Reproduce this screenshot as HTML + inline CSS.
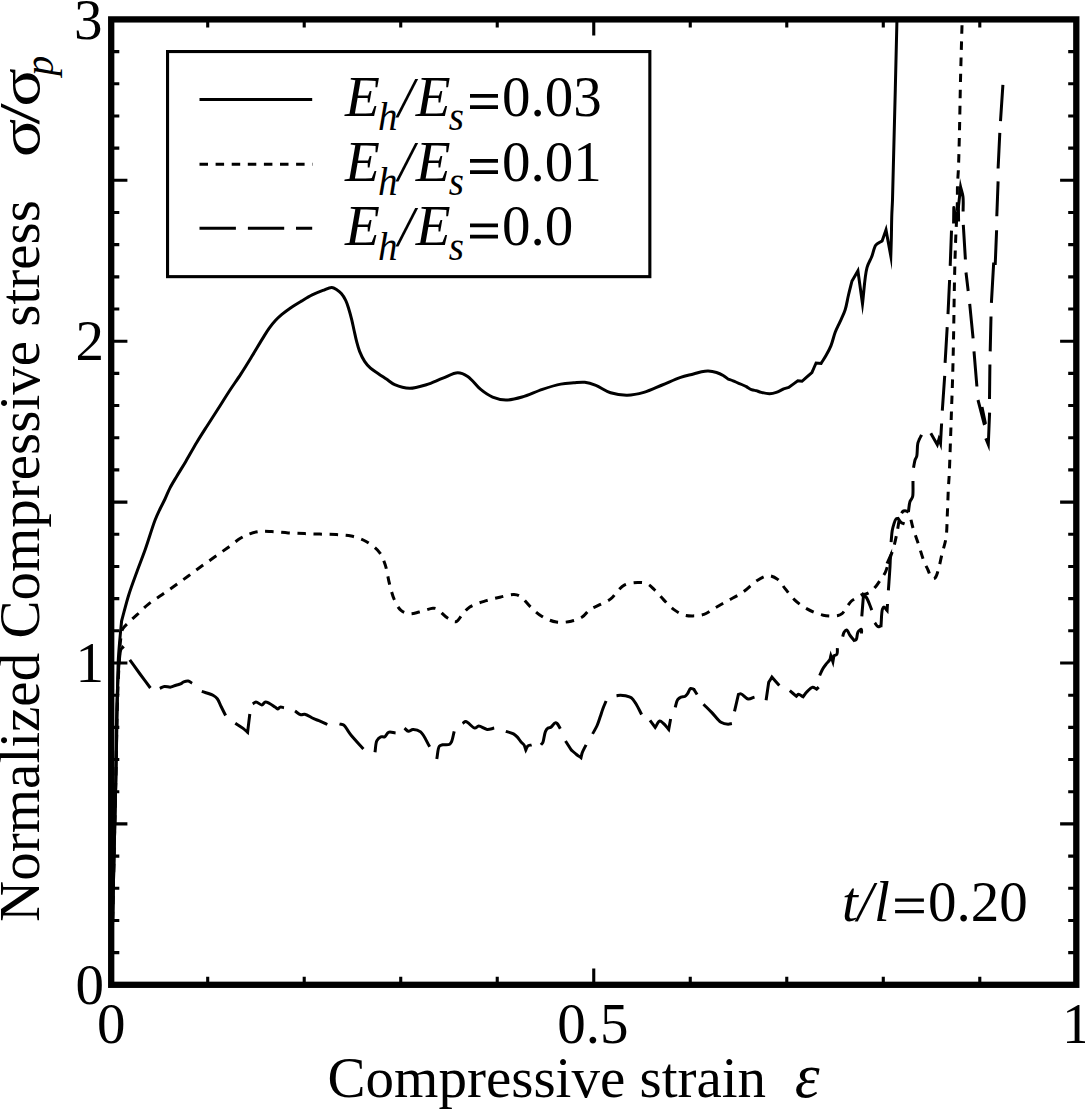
<!DOCTYPE html>
<html><head><meta charset="utf-8"><style>
html,body{margin:0;padding:0;background:#fff;}
svg{display:block;}
text{font-family:"Liberation Serif",serif;fill:#000;}
.i{font-style:italic;}
</style></head><body>
<svg width="1085" height="1110" viewBox="0 0 1085 1110">
<rect width="1085" height="1110" fill="#fff"/>
<rect x="111.2" y="19.4" width="965.10" height="965.40" fill="none" stroke="#000" stroke-width="6.3"/>
<path d="M207.71 984.80V976.70M207.71 19.40V27.50M304.22 984.80V976.70M304.22 19.40V27.50M400.73 984.80V976.70M400.73 19.40V27.50M497.24 984.80V976.70M497.24 19.40V27.50M593.75 984.80V968.60M593.75 19.40V35.60M690.26 984.80V976.70M690.26 19.40V27.50M786.77 984.80V976.70M786.77 19.40V27.50M883.28 984.80V976.70M883.28 19.40V27.50M979.79 984.80V976.70M979.79 19.40V27.50M111.20 952.62H119.30M1076.30 952.62H1068.20M111.20 920.44H119.30M1076.30 920.44H1068.20M111.20 888.26H119.30M1076.30 888.26H1068.20M111.20 856.08H119.30M1076.30 856.08H1068.20M111.20 823.90H127.40M1076.30 823.90H1060.10M111.20 791.72H119.30M1076.30 791.72H1068.20M111.20 759.54H119.30M1076.30 759.54H1068.20M111.20 727.36H119.30M1076.30 727.36H1068.20M111.20 695.18H119.30M1076.30 695.18H1068.20M111.20 663.00H127.40M1076.30 663.00H1060.10M111.20 630.82H119.30M1076.30 630.82H1068.20M111.20 598.64H119.30M1076.30 598.64H1068.20M111.20 566.46H119.30M1076.30 566.46H1068.20M111.20 534.28H119.30M1076.30 534.28H1068.20M111.20 502.10H127.40M1076.30 502.10H1060.10M111.20 469.92H119.30M1076.30 469.92H1068.20M111.20 437.74H119.30M1076.30 437.74H1068.20M111.20 405.56H119.30M1076.30 405.56H1068.20M111.20 373.38H119.30M1076.30 373.38H1068.20M111.20 341.20H127.40M1076.30 341.20H1060.10M111.20 309.02H119.30M1076.30 309.02H1068.20M111.20 276.84H119.30M1076.30 276.84H1068.20M111.20 244.66H119.30M1076.30 244.66H1068.20M111.20 212.48H119.30M1076.30 212.48H1068.20M111.20 180.30H127.40M1076.30 180.30H1060.10M111.20 148.12H119.30M1076.30 148.12H1068.20M111.20 115.94H119.30M1076.30 115.94H1068.20M111.20 83.76H119.30M1076.30 83.76H1068.20M111.20 51.58H119.30M1076.30 51.58H1068.20" stroke="#000" stroke-width="3.1" fill="none"/>
<g font-size="57">
<text x="104" y="1003.6" text-anchor="end">0</text><text x="104" y="681.8" text-anchor="end">1</text><text x="104" y="360.0" text-anchor="end">2</text><text x="102.5" y="39.2" text-anchor="end">3</text>
<text x="111.2" y="1043.3" text-anchor="middle">0</text>
<text x="592.8" y="1043.3" text-anchor="middle">0.5</text>
<text x="1076.3" y="1043.3" text-anchor="middle">1</text>
<text x="327.6" y="1097.2">Compressive strain</text>
<text x="794.8" y="1096.7" class="i" font-size="63">&#949;</text>
<text x="842.1" y="921.1" class="i">t</text>
<text x="857.2" y="921.1" class="i">/</text>
<text x="873.9" y="921.1" class="i">l</text>
<path d="M895.1 898.5h28.8v3.2h-28.8zM895.1 910h28.8v3.2h-28.8z"/>
<text x="928" y="921.1">0.20</text>
<text transform="translate(39.4,921.9) rotate(-90)">Normalized Compressive stress</text>
<text transform="translate(38.7,157.3) rotate(-90) scale(1.26,1)">&#963;</text>
<text transform="translate(38.7,124.5) rotate(-90) scale(1.34,1)">/</text>
<text transform="translate(38.7,106.8) rotate(-90) scale(1.26,1)">&#963;</text>
<text transform="translate(53.3,75.8) rotate(-90)" class="i" font-size="40">p</text>
</g>
<rect x="167.55" y="51.55" width="482.3" height="225.1" fill="none" stroke="#000" stroke-width="3.1"/>
<g font-size="57">
<text x="345" y="115.9" class="i">E</text>
<text x="377.9" y="130.0" class="i" font-size="39">h</text>
<text x="397.9" y="116.5" class="i">/</text>
<text x="415.7" y="115.9" class="i">E</text>
<text x="448.8" y="130.3" class="i" font-size="39">s</text>
<path d="M470 94.1h28v3.7h-28zM470 105.3h28v3.7h-28z"/>
<text x="502" y="115.9">0.03</text>
<text x="345" y="180.8" class="i">E</text>
<text x="377.9" y="194.9" class="i" font-size="39">h</text>
<text x="397.9" y="181.4" class="i">/</text>
<text x="415.7" y="180.8" class="i">E</text>
<text x="448.8" y="195.2" class="i" font-size="39">s</text>
<path d="M470 159.0h28v3.7h-28zM470 170.2h28v3.7h-28z"/>
<text x="502" y="180.8">0.01</text>
<text x="345" y="245.4" class="i">E</text>
<text x="377.9" y="259.5" class="i" font-size="39">h</text>
<text x="397.9" y="246.0" class="i">/</text>
<text x="415.7" y="245.4" class="i">E</text>
<text x="448.8" y="259.8" class="i" font-size="39">s</text>
<path d="M470 223.6h28v3.7h-28zM470 234.8h28v3.7h-28z"/>
<text x="502" y="245.4">0.0</text>
</g>
<g fill="none" stroke="#000" stroke-width="3" stroke-linejoin="miter" stroke-miterlimit="10">
<path d="M111.20 984.80C111.97 949.87 112.72 914.52 113.50 880.00C114.26 846.28 115.12 811.48 115.80 780.00C116.41 751.85 116.93 722.09 117.40 700.00C117.73 684.38 117.76 671.04 118.30 660.00C118.68 652.18 119.24 646.58 119.80 640.00C120.34 633.58 121.00 627.33 121.60 621.00C124.00 612.23 126.15 603.17 128.80 594.70C131.34 586.60 134.30 578.91 137.10 571.20C139.83 563.68 142.60 556.92 145.40 549.00C148.59 540.00 152.25 527.32 155.10 520.00C156.89 515.41 158.32 512.56 160.00 509.00C161.62 505.57 163.38 502.42 165.00 499.00C166.68 495.46 168.02 491.76 169.90 488.10C171.92 484.17 174.32 480.37 176.80 476.20C179.58 471.52 182.69 466.65 185.80 461.40C189.29 455.50 193.10 448.49 196.70 442.50C200.03 436.97 203.20 432.04 206.60 426.70C210.13 421.15 213.80 415.59 217.50 409.80C221.39 403.71 225.43 397.07 229.40 391.00C233.20 385.19 237.10 379.80 240.80 374.10C244.50 368.40 248.02 362.63 251.60 356.80C255.22 350.90 259.23 344.03 262.40 338.90C264.82 334.98 266.64 331.77 268.90 328.60C270.99 325.67 273.14 322.94 275.40 320.50C277.49 318.24 279.52 316.40 281.90 314.40C284.51 312.20 287.41 310.02 290.50 307.90C293.87 305.58 297.75 303.28 301.40 301.10C304.99 298.95 308.55 296.71 312.20 294.90C315.72 293.16 319.47 291.70 322.90 290.40C325.98 289.23 329.28 287.27 331.80 287.40C333.73 287.50 335.24 288.72 336.80 289.70C338.41 290.71 339.92 291.84 341.30 293.40C342.94 295.25 344.48 297.81 345.70 300.30C346.97 302.90 347.75 305.70 348.70 308.70C349.77 312.08 350.80 315.95 351.70 319.60C352.60 323.22 353.28 326.87 354.10 330.50C354.92 334.14 355.66 337.86 356.60 341.40C357.50 344.82 358.30 348.13 359.60 351.40C360.94 354.77 362.67 358.40 364.60 361.30C366.35 363.93 368.24 366.16 370.50 368.20C372.82 370.30 375.75 371.88 378.40 373.70C381.05 375.52 383.71 377.28 386.40 379.10C389.14 380.95 391.37 383.23 394.70 384.70C398.83 386.52 404.57 388.24 409.70 388.30C415.09 388.36 420.83 386.37 426.30 384.70C431.90 382.99 437.50 380.13 442.90 378.10C447.98 376.19 453.34 372.78 457.80 372.80C461.44 372.81 464.39 374.29 467.70 376.40C472.12 379.21 476.52 386.10 481.00 389.70C484.83 392.78 488.44 395.38 492.60 397.10C496.74 398.81 501.24 399.93 505.90 400.00C511.03 400.08 516.47 398.58 522.10 397.00C528.56 395.19 535.75 391.50 542.40 389.30C548.64 387.24 555.17 385.17 560.80 384.10C565.44 383.22 569.56 383.10 573.70 382.80C577.53 382.52 581.13 381.88 584.80 382.30C588.53 382.73 592.02 383.90 595.90 385.40C600.54 387.20 605.41 391.17 610.60 392.80C615.84 394.45 621.67 395.27 627.20 395.20C632.74 395.13 638.21 393.98 643.80 392.40C649.87 390.69 656.08 387.51 662.20 385.00C668.34 382.48 674.95 379.20 680.60 377.30C685.22 375.75 689.70 375.02 693.50 374.00C696.52 373.19 699.02 372.20 701.60 371.70C703.89 371.26 705.88 370.92 708.20 371.00C710.81 371.10 713.93 371.70 716.50 372.50C718.90 373.24 721.18 374.34 723.20 375.50C725.05 376.56 726.53 377.90 728.20 379.10C729.83 379.67 731.09 380.01 733.10 380.80C736.47 382.12 741.97 384.67 746.40 386.60C748.07 387.60 749.68 388.91 751.40 389.60C753.02 390.24 754.73 390.33 756.40 390.70C758.03 391.27 759.43 391.93 761.30 392.40C763.68 392.99 766.99 393.75 769.60 393.70C771.96 393.66 774.06 393.15 776.30 392.40C778.76 391.58 781.23 390.00 783.70 388.80C785.37 388.33 787.03 387.87 788.70 387.40C791.73 385.20 794.77 383.00 797.80 380.80C799.20 380.97 800.60 381.13 802.00 381.30C805.30 378.37 808.60 375.43 811.90 372.50C813.30 369.33 814.70 366.17 816.10 363.00C817.77 363.13 819.43 363.27 821.10 363.40C822.73 360.80 824.42 358.40 826.00 355.60C827.74 352.51 829.53 349.23 831.00 345.60C832.64 341.54 833.60 336.45 835.20 332.30C836.67 328.49 838.48 325.25 840.10 321.60C841.78 317.82 843.74 314.18 845.10 310.00C846.60 305.38 847.33 299.91 848.50 295.00C849.63 290.25 850.83 285.67 852.00 281.00C853.97 277.60 855.93 274.20 857.90 270.80C859.43 281.77 860.97 292.73 862.50 303.70C864.00 291.67 864.69 276.07 867.00 267.60C868.33 262.72 870.33 260.24 871.80 256.50C873.26 252.77 873.95 247.63 875.80 245.20C877.04 243.57 879.02 242.85 880.20 242.10C880.95 241.62 881.47 241.37 882.10 241.00C883.40 237.27 884.70 233.53 886.00 229.80C887.60 238.53 889.20 247.27 890.80 256.00C890.97 250.67 891.15 245.93 891.30 240.00C891.49 232.59 891.56 222.27 891.80 215.00C891.99 209.36 892.22 207.75 892.50 200.00C893.45 173.30 895.43 81.33 896.90 22.00"/>
<path d="M111.20 984.80C111.97 949.87 112.72 914.52 113.50 880.00C114.26 846.28 115.10 811.48 115.80 780.00C116.42 751.85 116.77 722.09 117.50 700.00C118.02 684.38 118.69 671.04 119.30 660.00C119.73 652.19 119.90 645.63 120.60 640.00C121.12 635.83 121.11 632.23 122.60 629.20C123.97 626.42 126.52 624.60 128.80 622.30C131.31 619.77 134.14 617.44 137.10 614.70C140.54 611.51 144.17 607.56 148.20 604.30C152.44 600.87 157.40 597.91 162.00 594.70C166.60 591.48 171.32 588.19 175.80 585.00C180.08 581.96 184.09 579.07 188.30 576.00C192.63 572.84 197.01 569.46 201.40 566.30C205.75 563.16 210.13 560.19 214.50 557.10C218.90 553.99 223.32 550.88 227.70 547.70C232.09 544.51 236.73 540.42 240.80 538.00C243.98 536.11 246.69 534.88 249.80 533.80C252.92 532.72 256.06 531.89 259.50 531.50C263.29 531.07 267.25 531.41 271.60 531.60C276.70 531.82 282.67 532.57 288.20 532.90C293.71 533.23 299.33 533.40 304.70 533.60C309.82 533.79 314.57 533.94 319.70 534.10C325.09 534.27 330.92 534.27 336.30 534.60C341.41 534.92 346.31 534.89 351.20 536.00C356.24 537.15 361.48 538.87 366.10 541.50C370.90 544.24 376.17 548.16 379.40 552.30C382.29 556.00 383.62 560.07 385.20 564.70C387.05 570.12 387.75 577.08 389.30 583.00C390.79 588.70 392.13 594.78 394.30 599.60C396.16 603.72 398.19 608.04 401.00 610.40C403.36 612.37 406.37 613.39 409.30 613.70C412.41 614.03 415.65 612.78 419.20 612.00C423.42 611.07 429.76 608.50 432.90 608.30C434.51 608.20 435.15 608.16 436.60 608.80C439.44 610.06 444.04 615.86 447.60 618.10C450.43 619.88 453.47 622.33 455.90 621.80C458.43 621.25 460.12 616.83 462.40 614.40C464.75 611.89 466.56 609.11 469.80 607.00C474.02 604.25 480.98 602.32 486.40 600.60C491.40 599.01 496.34 597.94 501.10 596.90C505.52 595.93 510.45 594.30 514.00 594.50C516.56 594.65 518.28 595.13 520.50 596.50C523.75 598.50 527.06 603.71 530.60 607.00C534.12 610.27 537.52 613.71 541.70 616.20C546.08 618.81 551.40 621.29 556.40 622.10C561.24 622.88 566.70 622.15 571.20 621.20C575.21 620.35 579.07 619.09 582.20 617.10C585.14 615.22 586.82 611.79 589.60 609.80C592.36 607.82 595.53 606.89 598.80 605.20C602.59 603.24 607.76 601.28 611.00 598.70C613.72 596.53 615.11 593.60 617.40 591.30C619.68 589.01 621.68 586.37 624.70 584.90C628.21 583.20 633.64 582.63 637.60 582.50C640.94 582.39 644.13 582.43 646.90 583.60C649.67 584.77 651.71 587.16 654.20 589.50C657.21 592.33 660.29 596.30 663.50 599.60C666.75 602.94 670.05 606.78 673.60 609.40C676.81 611.76 680.31 613.84 683.70 614.90C686.74 615.85 689.69 615.94 692.90 615.90C696.43 615.85 700.42 615.63 704.00 614.40C707.84 613.08 711.25 610.11 715.10 607.90C719.23 605.52 723.56 603.11 728.00 600.60C732.74 597.92 737.92 595.55 742.70 592.30C747.77 588.85 752.73 583.15 757.50 580.30C761.27 578.05 764.99 575.72 768.50 575.70C771.70 575.68 775.02 577.41 777.70 579.40C780.63 581.57 782.48 585.41 785.10 588.60C787.98 592.12 790.79 596.31 794.30 599.60C797.92 603.00 802.01 606.06 806.60 608.60C811.56 611.34 817.72 614.09 823.20 615.20C828.21 616.21 834.79 616.19 838.10 615.50C839.88 615.13 840.78 614.71 842.00 613.70C843.64 612.36 844.95 609.58 846.50 607.50C848.11 605.35 849.60 602.71 851.50 601.00C853.21 599.46 855.28 598.62 857.20 597.50C859.11 596.39 861.34 594.82 863.00 594.30C864.12 593.95 864.91 594.33 866.00 594.00C867.49 593.55 869.40 592.61 871.00 591.40C872.89 589.97 874.75 587.75 876.40 585.70C878.08 583.62 879.51 581.22 881.00 579.00C882.44 576.85 883.98 575.14 885.20 572.60C886.75 569.39 887.64 565.11 889.00 561.00C890.55 556.32 892.59 551.12 894.00 546.00C895.43 540.79 896.46 535.06 897.50 530.00C898.44 525.45 898.72 520.42 900.00 517.00C900.93 514.52 901.96 511.67 903.50 511.00C904.75 510.45 906.72 510.82 908.00 512.00C910.45 514.25 911.25 522.59 913.00 528.00C914.81 533.59 916.90 539.50 918.70 545.00C920.39 550.15 921.79 555.55 923.50 560.00C924.92 563.71 926.53 566.82 928.00 570.00C929.36 572.93 930.40 577.53 932.00 578.40C932.91 578.90 934.14 578.65 935.00 578.00C936.36 576.97 937.05 573.89 938.00 571.00C939.44 566.62 940.65 559.58 942.00 554.00C943.31 548.58 945.11 543.86 946.00 538.00C947.05 531.07 946.91 523.01 947.30 515.00C947.72 506.24 948.02 494.88 948.40 487.50C948.66 482.52 948.94 480.22 949.20 475.00C949.64 466.27 950.10 451.22 950.50 440.00C950.87 429.62 951.16 420.16 951.50 410.00C951.86 399.51 952.28 389.13 952.60 378.00C952.95 365.88 953.22 354.11 953.50 340.00C953.86 322.27 954.14 296.57 954.50 280.00C954.75 268.28 955.03 258.44 955.30 250.00C955.50 243.83 955.64 240.16 955.90 234.00C956.26 225.56 957.05 212.87 957.30 204.00C957.50 196.95 957.30 191.06 957.50 185.00C957.69 179.44 958.13 175.50 958.40 169.00C958.83 158.85 959.17 143.81 959.50 130.00C959.88 114.37 960.09 97.28 960.50 80.00C960.94 61.38 961.57 41.33 962.10 22.00" stroke-dasharray="8.5 7.6"/>
<path d="M111.20 984.80C111.97 949.87 112.72 914.52 113.50 880.00C114.26 846.28 115.20 811.48 115.80 780.00C116.33 751.85 116.18 722.18 117.00 700.00C117.59 684.19 118.46 668.33 119.40 659.40C119.87 654.97 120.06 651.56 120.90 649.50C121.34 648.43 121.97 648.03 122.50 647.30C122.93 647.70 123.37 648.10 123.80 648.50M129.80 659.90C133.20 664.60 136.57 669.32 140.00 674.00C143.44 678.69 146.93 683.33 150.40 688.00M159.80 688.40C161.33 687.77 162.71 686.75 164.40 686.50C166.33 686.21 168.80 687.36 170.80 687.10C172.65 686.86 174.32 685.75 176.00 685.20C177.55 684.70 179.16 684.50 180.50 683.90C181.70 683.36 182.49 682.38 183.70 681.90C185.03 681.37 186.79 680.78 188.20 681.00C189.59 681.22 190.80 682.47 192.10 683.20M201.80 691.40C205.67 692.77 210.65 693.95 213.40 695.50C215.16 696.49 216.14 697.24 217.30 698.70C218.82 700.62 219.77 703.81 221.10 706.50C222.53 709.40 224.10 712.50 225.60 715.50M235.30 723.20C237.90 724.93 240.90 726.72 243.10 728.40C244.85 729.74 246.10 731.00 247.60 732.30C248.33 726.20 249.07 720.10 249.80 714.00M252.70 703.90C253.80 703.23 254.73 701.94 256.00 701.90C257.65 701.84 260.12 705.06 261.80 704.90C263.25 704.76 263.99 702.04 265.60 701.90C267.99 701.70 272.88 705.62 275.00 707.00C276.18 707.76 276.73 708.99 277.60 709.00C278.46 709.01 279.19 707.34 280.20 707.10C281.30 706.83 282.73 707.50 284.00 707.70M295.00 711.00C296.93 712.27 298.99 714.41 300.80 714.80C302.17 715.10 303.18 713.96 304.70 714.20C307.13 714.58 311.08 717.57 313.70 718.70C315.64 719.54 316.98 719.80 318.90 720.60C321.39 721.63 324.50 723.20 327.30 724.50M339.50 723.90C341.00 724.33 342.65 724.24 344.00 725.20C345.75 726.45 347.04 729.59 348.50 731.60C349.83 733.43 350.71 734.75 352.40 736.80C355.08 740.06 359.73 744.93 363.40 749.00M375.00 752.30C375.63 748.40 375.50 743.29 376.90 740.60C377.85 738.78 379.37 737.38 380.80 736.80C382.01 736.31 383.52 737.35 384.70 736.80C386.15 736.13 386.81 733.00 388.50 732.30C390.36 731.53 393.23 732.70 395.60 732.90M404.50 728.10C405.80 729.17 406.99 731.10 408.40 731.30C409.79 731.50 411.18 729.47 412.90 729.40C415.11 729.31 418.24 730.03 420.60 731.90C424.07 734.64 426.67 741.83 429.70 746.80M436.80 759.00C437.67 754.70 437.73 748.12 439.40 746.10C440.26 745.07 441.29 745.11 442.60 744.80C444.47 744.35 448.19 745.05 449.70 744.20C450.72 743.63 451.02 742.83 451.60 741.60C452.65 739.37 453.33 734.73 454.20 731.30M462.60 723.50C463.67 722.87 464.49 721.54 465.80 721.60C468.07 721.70 472.37 727.92 474.80 728.10C476.33 728.22 477.13 726.18 478.70 726.10C480.95 725.99 484.38 729.14 487.10 729.40C489.53 729.64 491.83 728.53 494.20 728.10M505.80 731.30C508.37 732.17 511.45 732.76 513.50 733.90C515.12 734.80 516.17 735.82 517.40 737.10C518.79 738.56 520.08 740.92 521.30 742.30C522.21 743.33 523.19 743.71 523.90 744.80C524.78 746.15 525.17 748.27 525.80 750.00C526.43 748.70 526.71 746.97 527.70 746.10C528.66 745.26 530.30 745.23 531.60 744.80M541.00 744.80C541.63 743.97 542.33 743.51 542.90 742.30C543.99 740.00 544.28 733.78 545.50 731.30C546.24 729.80 547.13 728.74 548.10 728.10C548.87 727.60 549.71 727.91 550.60 727.40C552.00 726.59 553.92 723.21 555.20 722.90C555.91 722.73 556.48 723.01 557.10 723.50C558.19 724.35 559.23 726.97 560.30 728.70M565.50 741.00C567.43 744.00 569.37 747.00 571.30 750.00C573.03 751.50 574.80 753.16 576.50 754.50C578.03 755.70 579.50 756.63 581.00 757.70C581.43 756.00 581.62 754.44 582.30 752.60C583.17 750.23 584.83 747.40 586.10 744.80M592.60 733.90C594.10 731.10 595.82 728.40 597.10 725.50C598.38 722.60 599.30 719.40 600.30 716.50C601.23 713.81 601.94 711.27 602.90 708.70C603.87 706.11 605.03 703.57 606.10 701.00M616.50 695.80C617.77 695.60 618.93 695.23 620.30 695.20C621.90 695.17 623.74 695.41 625.50 695.80C627.40 696.22 629.64 696.53 631.30 697.70C633.12 698.99 634.31 701.18 635.80 703.50C637.74 706.52 639.67 710.83 641.60 714.50M650.00 720.30C651.73 722.67 653.47 725.03 655.20 727.40C656.70 725.27 658.11 721.30 659.70 721.00C660.91 720.77 662.21 722.38 663.50 723.50C665.19 724.97 666.97 727.43 668.70 729.40C669.33 725.93 669.97 722.47 670.60 719.00M675.20 707.40C676.03 704.83 676.46 701.47 677.70 699.70C678.59 698.42 679.79 697.63 681.00 697.10C682.16 696.59 683.73 697.05 684.80 696.50C685.85 695.97 686.56 694.99 687.40 693.90C688.50 692.48 689.29 689.03 690.60 688.50C691.57 688.11 692.80 689.10 693.90 689.40C694.97 691.10 696.03 692.80 697.10 694.50M703.50 704.20C706.30 707.00 709.07 709.68 711.90 712.60C714.90 715.69 717.88 720.43 721.00 722.30C723.32 723.69 726.09 724.12 728.10 724.20C729.56 724.26 730.63 723.73 731.90 723.50M734.50 711.30C735.80 705.70 737.10 700.10 738.40 694.50C739.27 694.30 739.98 693.69 741.00 693.90C742.85 694.27 745.69 698.59 748.10 699.00C750.20 699.35 752.37 697.73 754.50 697.10M766.10 700.30C766.97 694.30 767.83 688.30 768.70 682.30C769.77 680.57 770.83 678.83 771.90 677.10C774.37 679.93 776.83 682.77 779.30 685.60M789.80 690.70C792.00 692.57 794.20 694.43 796.40 696.30C797.07 695.63 797.54 694.42 798.40 694.30C799.57 694.13 801.47 695.97 803.00 696.80C804.17 695.30 805.08 693.77 806.50 692.30C808.18 690.56 810.71 687.42 812.60 687.20C814.02 687.03 815.27 688.53 816.60 689.20C817.30 688.53 818.00 687.87 818.70 687.20M819.70 675.50C820.70 673.30 821.54 670.90 822.70 668.90C823.77 667.06 825.08 665.46 826.30 663.90C827.45 662.44 829.05 661.25 829.80 659.80C830.45 658.53 830.47 657.13 830.80 655.80C831.50 657.80 832.20 659.80 832.90 661.80C833.23 659.80 833.57 657.80 833.90 655.80C834.90 655.27 836.28 655.15 836.90 654.20C837.73 652.94 837.23 650.20 837.40 648.20M842.70 636.60C843.20 635.07 843.43 633.13 844.20 632.00C844.80 631.12 845.71 629.98 846.50 630.10C847.66 630.27 848.90 633.70 850.10 635.50C851.43 637.13 852.77 638.77 854.10 640.40C854.80 640.10 855.63 640.17 856.20 639.50C857.24 638.26 856.88 633.76 858.00 632.00C858.84 630.68 860.82 629.03 861.40 629.30C861.97 629.57 861.47 632.10 861.50 633.50M861.80 616.30C862.37 609.20 862.93 602.10 863.50 595.00C864.47 595.83 865.44 596.18 866.40 597.50C868.22 600.00 870.00 605.97 871.80 610.20M874.80 622.80C875.83 624.07 876.73 626.20 877.90 626.60C878.84 626.93 879.97 626.13 881.00 625.90C881.50 620.27 881.40 611.76 882.50 609.00C882.91 607.96 883.40 607.12 884.00 607.10C884.83 607.07 886.07 609.37 887.10 610.50C887.23 608.33 887.37 606.17 887.50 604.00M888.40 590.30C888.93 582.37 889.67 572.83 890.00 566.50C890.22 562.30 890.27 559.50 890.40 556.00C889.27 558.50 888.13 561.00 887.00 563.50M891.10 542.20C891.47 538.40 891.64 534.04 892.20 530.80C892.62 528.34 893.14 526.42 893.80 524.40C894.42 522.50 895.01 519.89 896.00 519.00C896.60 518.46 897.40 518.60 898.10 518.40C899.20 519.83 900.16 521.81 901.40 522.70C902.38 523.40 903.53 523.43 904.60 523.80M908.40 511.90C908.93 508.47 909.18 503.88 910.00 501.60C910.45 500.35 911.14 499.82 911.60 498.90C912.04 498.02 912.43 497.50 912.70 496.20C913.31 493.23 912.90 486.07 913.00 481.00M913.50 467.80C914.03 465.10 914.41 461.77 915.10 459.70C915.56 458.32 916.28 457.91 916.70 456.40C917.48 453.56 917.10 446.61 917.80 443.50C918.22 441.65 918.78 440.63 919.40 439.20C920.04 437.72 920.87 436.27 921.60 434.80M930.80 433.20C932.97 437.00 935.13 440.80 937.30 444.60C937.83 442.80 938.37 441.00 938.90 439.20C939.43 440.63 939.97 442.07 940.50 443.50C940.87 436.83 941.23 430.17 941.60 423.50M942.30 410.70C943.10 399.07 943.90 387.43 944.70 375.80M945.10 362.80C945.80 350.90 946.50 339.00 947.20 327.10M948.00 314.10C948.53 302.73 949.07 291.37 949.60 280.00M950.20 265.90C950.63 254.13 951.07 242.37 951.50 230.60M958.30 208.00C959.07 201.00 959.83 194.00 960.60 187.00C961.40 190.33 962.55 193.32 963.00 197.00C963.53 201.38 963.07 206.73 963.10 211.60M963.30 224.90C964.00 236.43 964.70 247.97 965.40 259.50M966.00 272.50C966.73 278.67 967.47 284.83 968.20 291.00M969.70 303.90C970.83 315.40 971.97 326.90 973.10 338.40M974.00 351.40C974.97 363.10 975.93 374.80 976.90 386.50M978.00 400.00C980.17 408.33 982.33 416.67 984.50 425.00M982.00 407.00C983.17 412.67 984.33 418.33 985.50 424.00M985.80 438.40C986.63 440.43 987.47 442.47 988.30 444.50C988.73 433.87 989.17 423.23 989.60 412.60M989.50 399.10C989.63 387.53 989.77 375.97 989.90 364.40M990.20 351.40C990.47 339.77 990.73 328.13 991.00 316.50M991.40 302.80C992.17 289.37 992.93 275.93 993.70 262.50M995.20 265.00C995.67 253.43 996.13 241.87 996.60 230.30M996.80 216.20C997.23 204.60 997.67 193.00 998.10 181.40M998.10 168.50C998.67 156.63 999.23 144.77 999.80 132.90M1000.50 121.10C1001.30 109.00 1002.10 96.90 1002.90 84.80"/>
<path d="M953.6 223.5L953.8 207.5L956.2 221.5L958.4 207L958.6 221.5" stroke-linejoin="round"/>
<path d="M199.5 99.6H312.2"/>
<path d="M199.5 164.2H312.6" stroke-dasharray="8.5 7.6"/>
<path d="M199.5 228.3H235.9M247.9 228.3H284.2M296 228.3H312.2"/>
</g>
</svg>
</body></html>
